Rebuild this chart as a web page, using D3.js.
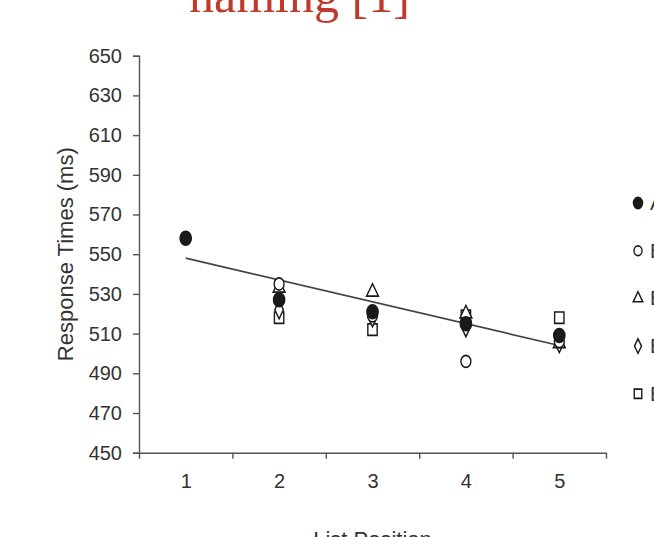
<!DOCTYPE html>
<html>
<head>
<meta charset="utf-8">
<script src="https://cdnjs.cloudflare.com/ajax/libs/d3/7.8.5/d3.min.js"></script>
<style>
  body { margin: 0; background: #fff; }
  svg { display: block; }
  .tick text { font-family: "Liberation Sans", Arial, sans-serif; font-size: 20px; fill: #333; }
  .axis path, .axis line { stroke: #555; stroke-width: 1.4; }
</style>
</head>
<body>
<div id="chart"></div>
<script>
// data
var positions = [1, 2, 3, 4, 5];
var seriesNames = ["All", "Block 1", "Block 2", "Block 3", "Block 4"];
var seriesShapes = ["filled", "circle", "triangle", "diamond", "square"];
var allValues    = [558, 527, 521, 515, 509];
var block1Values = [null, 535, 519, 496, 506];
var block2Values = [null, 533, 531, 520, 505];
var block3Values = [null, 522, 518, 513, 505];
var block4Values = [null, 518, 512, 519, 518];
var yTicks = [450, 470, 490, 510, 530, 550, 570, 590, 610, 630, 650];

var seriesValues = [allValues, block1Values, block2Values, block3Values, block4Values];

var W = 654, H = 537;
var plot = {left: 139, right: 606, top: 55.7, bottom: 452.7};

var svg = d3.select("#chart")
    .append("svg")
    .attr("width", W)
    .attr("height", H);

// title, cut by the top edge
svg.append("text")
    .attr("x", 189)
    .attr("y", 12)
    .attr("font-family", "Liberation Serif, Times New Roman, serif")
    .attr("font-size", "50px")
    .attr("fill", "#c0392b")
    .text("naming [1]");

var x = d3.scaleLinear().domain([0.5, 5.5]).range([plot.left, plot.right]);
var y = d3.scaleLinear().domain([450, 650]).range([plot.bottom, plot.top]);

// y axis
svg.append("g")
    .attr("class", "axis axis--y")
    .attr("transform", "translate(" + plot.left + ",0)")
    .call(d3.axisLeft(y).tickValues(yTicks).tickSize(6).tickSizeOuter(6).tickPadding(11));

// x axis: boundary ticks, then labels at centres
svg.append("g")
    .attr("class", "axis axis--x")
    .attr("transform", "translate(0," + plot.bottom + ")")
    .call(d3.axisBottom(x).tickValues([1.5, 2.5, 3.5, 4.5]).tickSize(6).tickSizeOuter(6).tickFormat(""));

svg.append("g")
    .attr("class", "axis axis--xlabels")
    .attr("transform", "translate(0," + plot.bottom + ")")
    .call(d3.axisBottom(x).tickValues(positions).tickSize(0).tickPadding(21).tickFormat(d3.format("d")))
    .call(function (g) { g.select(".domain").remove(); });

svg.append("text")
    .attr("transform", "translate(73," + ((plot.top + plot.bottom) / 2) + ") rotate(-90)")
    .attr("text-anchor", "middle")
    .attr("font-family", "Liberation Sans, Arial, sans-serif")
    .attr("font-size", "22px")
    .attr("fill", "#333")
    .text("Response Times (ms)");

svg.append("text")
    .attr("x", x(3))
    .attr("y", 547)
    .attr("text-anchor", "middle")
    .attr("font-family", "Liberation Sans, Arial, sans-serif")
    .attr("font-size", "22px")
    .attr("fill", "#333")
    .text("List Position");

// linear trend of the "All" series
var mx = d3.mean(positions);
var my = d3.mean(allValues);
var slope = d3.sum(positions, function (p, i) { return (p - mx) * (allValues[i] - my); }) /
    d3.sum(positions, function (p) { return (p - mx) * (p - mx); });
var trend = [1, 5].map(function (p) { return {p: p, v: my + slope * (p - mx)}; });

svg.append("path")
    .datum(trend)
    .attr("fill", "none")
    .attr("stroke", "#444")
    .attr("stroke-width", 1.7)
    .attr("d", d3.line().x(function (d) { return x(d.p); }).y(function (d) { return y(d.v); }));

var symbolType = {
    filled: d3.symbolCircle,
    circle: d3.symbolCircle,
    triangle: d3.symbolTriangle,
    diamond: d3.symbolDiamond,
    square: d3.symbolSquare
};
var symbolSize = {filled: 150, circle: 115, triangle: 90, diamond: 95, square: 130};

function drawMarker(g, shape, cx, cy, k) {
    g.append("path")
        .attr("d", d3.symbol().type(symbolType[shape]).size(symbolSize[shape] * k)())
        .attr("transform", "translate(" + cx + "," + cy + ") scale(0.82,1)")
        .attr("fill", shape === "filled" ? "#1a1a1a" : "#fff")
        .attr("stroke", "#1a1a1a")
        .attr("stroke-width", 1.7);
}

var markers = svg.append("g").attr("class", "markers");
// draw open shapes first, filled series on top
[4, 3, 2, 1, 0].forEach(function (s) {
    seriesValues[s].forEach(function (v, i) {
        if (v === null) return;
        drawMarker(markers, seriesShapes[s], x(positions[i]), y(v), 1);
    });
});

// legend, runs off the right edge
var legend = svg.append("g").attr("class", "legend");
seriesNames.forEach(function (name, i) {
    var ly = 203 + i * 47.7;
    drawMarker(legend, seriesShapes[i], 638, ly, 0.65);
    legend.append("text")
        .attr("x", 650)
        .attr("y", ly + 7)
        .attr("font-family", "Liberation Sans, Arial, sans-serif")
        .attr("font-size", "20px")
        .attr("fill", "#333")
        .text(name);
});
</script>
</body>
</html>
